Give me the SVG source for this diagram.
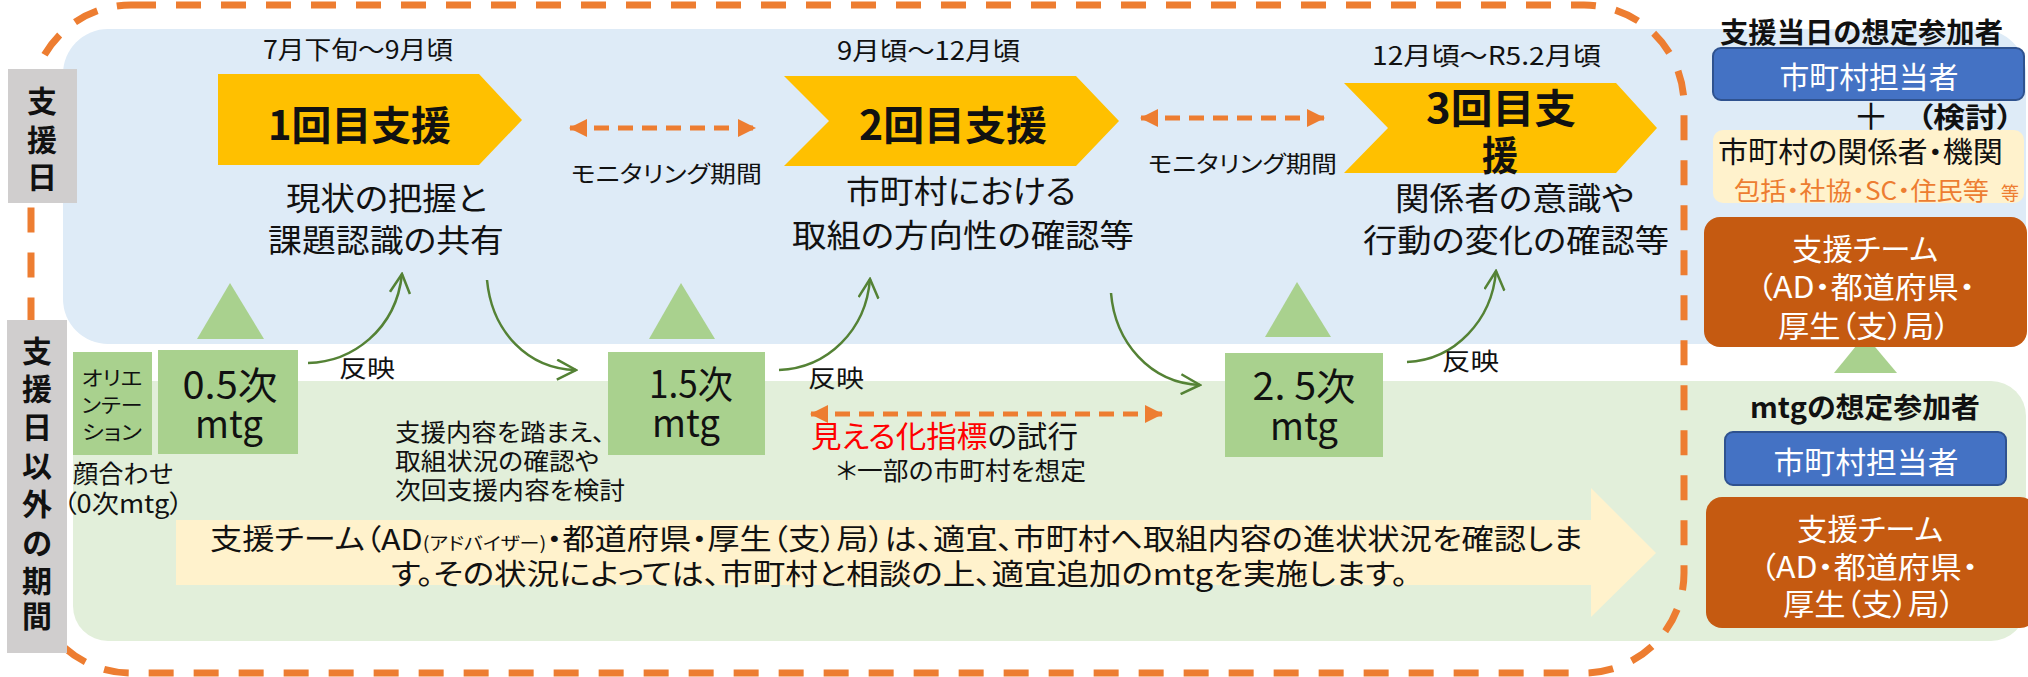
<svg xmlns="http://www.w3.org/2000/svg" width="2028" height="677" viewBox="0 0 2028 677">
<style>
text{font-family:"Noto Sans CJK JP","Noto Sans",sans-serif;fill:#111;font-feature-settings:"palt";}
.b{font-weight:bold;}
.w{fill:#fff;}
.or{fill:#ED7D31;}
.gbox{fill:#A9D18E;}
.tri{fill:#A9D18E;}
.gray{fill:#D0CECE;}
.chev{fill:#FFC000;}
.arc{fill:none;stroke:#548235;stroke-width:2.5;}
.oarr{fill:none;stroke:#ED7D31;stroke-width:5;stroke-dasharray:15 9;}
.blue{fill:#4472C4;stroke:#2F528F;stroke-width:2;}
.brown{fill:#C55A11;}
</style>
<defs>
<marker id="gv" markerUnits="userSpaceOnUse" viewBox="0 0 22 22" refX="20" refY="11" markerWidth="22" markerHeight="22" orient="auto"><path d="M1,1 L20,11 L1,21" fill="none" stroke="#548235" stroke-width="2.5"/></marker>
<marker id="oh" markerUnits="userSpaceOnUse" viewBox="0 0 18 18" refX="17" refY="9" markerWidth="18" markerHeight="18" orient="auto-start-reverse"><path d="M0,0 L18,9 L0,18 Z" fill="#ED7D31"/></marker>
</defs>

<g id="backgrounds">
<rect x="63" y="29" width="1963" height="315" rx="45" fill="#DEEBF7"/>
<rect x="73" y="381" width="1953" height="260" rx="35" fill="#E2EFDA"/>
</g>

<rect id="period-border" x="31" y="5" width="1653" height="668" rx="100" fill="none" stroke="#ED7D31" stroke-width="7" stroke-dasharray="25 20"/>

<g id="label-support-day">
<rect class="gray" x="8" y="69" width="69" height="134"/>
<text class="b" font-size="30" text-anchor="middle"><tspan x="42" y="112">支</tspan><tspan x="42" y="151">援</tspan><tspan x="42" y="188">日</tspan></text>
</g>
<g id="label-other-period">
<rect class="gray" x="7" y="320" width="60" height="333"/>
<text class="b" font-size="30" text-anchor="middle"><tspan x="37" y="362">支</tspan><tspan x="37" y="400">援</tspan><tspan x="37" y="438">日</tspan><tspan x="37" y="477">以</tspan><tspan x="37" y="515">外</tspan><tspan x="37" y="554">の</tspan><tspan x="37" y="592">期</tspan><tspan x="37" y="627">間</tspan></text>
</g>

<g id="support1">
<text x="263" y="59" font-size="25" textLength="190" lengthAdjust="spacingAndGlyphs">7月下旬～9月頃</text>
<path class="chev" d="M218,74 H479 L522,120 L479,165 H218 Z"/>
<text class="b" x="268" y="140" font-size="40" textLength="183" lengthAdjust="spacingAndGlyphs">1回目支援</text>
<text font-size="32"><tspan x="286" y="210" textLength="201" lengthAdjust="spacingAndGlyphs">現状の把握と</tspan><tspan x="268" y="252" textLength="236" lengthAdjust="spacingAndGlyphs">課題認識の共有</tspan></text>
</g>
<g id="support2">
<text x="837" y="60" font-size="25" textLength="183" lengthAdjust="spacingAndGlyphs">9月頃～12月頃</text>
<path class="chev" d="M784,76 H1076 L1119,121 L1076,166 H784 L829,121 Z"/>
<text class="b" x="859" y="140" font-size="40" textLength="188" lengthAdjust="spacingAndGlyphs">2回目支援</text>
<text font-size="32"><tspan x="846" y="203" textLength="230" lengthAdjust="spacingAndGlyphs">市町村における</tspan><tspan x="792" y="247" textLength="342" lengthAdjust="spacingAndGlyphs">取組の方向性の確認等</tspan></text>
</g>
<g id="support3">
<text x="1372" y="65" font-size="25" textLength="229" lengthAdjust="spacingAndGlyphs">12月頃～R5.2月頃</text>
<path class="chev" d="M1344,83 H1616 L1657,128 L1616,173 H1344 L1388,128 Z"/>
<text class="b" font-size="40"><tspan x="1426" y="123" textLength="150" lengthAdjust="spacingAndGlyphs">3回目支</tspan><tspan x="1482" y="170" textLength="36" lengthAdjust="spacingAndGlyphs">援</tspan></text>
<text font-size="32"><tspan x="1395" y="210" textLength="239" lengthAdjust="spacingAndGlyphs">関係者の意識や</tspan><tspan x="1363" y="252" textLength="306" lengthAdjust="spacingAndGlyphs">行動の変化の確認等</tspan></text>
</g>

<g id="monitoring1">
<text x="571" y="182" font-size="23" textLength="191" lengthAdjust="spacingAndGlyphs">モニタリング期間</text>
</g>
<g id="monitoring2">
<text x="1148" y="172" font-size="23" textLength="189" lengthAdjust="spacingAndGlyphs">モニタリング期間</text>
</g>

<g id="triangles">
<polygon class="tri" points="230,283 197,339 264,339"/>
<polygon class="tri" points="681,283 649,339 715,339"/>
<polygon class="tri" points="1297,282 1265,337 1331,337"/>
<polygon class="tri" points="1865,335 1834,373 1897,373"/>
</g>

<g id="orientation">
<rect class="gbox" x="73" y="352" width="79" height="103"/>
<text font-size="20" text-anchor="middle"><tspan x="112" y="386" textLength="61" lengthAdjust="spacingAndGlyphs">オリエ</tspan><tspan x="112" y="413" textLength="61" lengthAdjust="spacingAndGlyphs">ンテー</tspan><tspan x="112" y="440" textLength="60" lengthAdjust="spacingAndGlyphs">ション</tspan></text>
<text font-size="25"><tspan x="73" y="483" textLength="100" lengthAdjust="spacingAndGlyphs">顔合わせ</tspan><tspan x="63" y="513" textLength="120" lengthAdjust="spacingAndGlyphs">（0次mtg）</tspan></text>
</g>
<g id="mtg05">
<rect class="gbox" x="158" y="350" width="140" height="104"/>
<text font-size="38" text-anchor="middle"><tspan x="230" y="399" textLength="95" lengthAdjust="spacingAndGlyphs">0.5次</tspan><tspan x="229" y="438" textLength="68" lengthAdjust="spacingAndGlyphs">mtg</tspan></text>
</g>
<g id="mtg15">
<rect class="gbox" x="608" y="352" width="157" height="103"/>
<text font-size="38" text-anchor="middle"><tspan x="691" y="398" textLength="84" lengthAdjust="spacingAndGlyphs">1.5次</tspan><tspan x="686" y="437" textLength="68" lengthAdjust="spacingAndGlyphs">mtg</tspan></text>
<text font-size="24"><tspan x="395" y="441" textLength="210" lengthAdjust="spacingAndGlyphs">支援内容を踏まえ、</tspan><tspan x="395" y="470" textLength="204" lengthAdjust="spacingAndGlyphs">取組状況の確認や</tspan><tspan x="395" y="499" textLength="230" lengthAdjust="spacingAndGlyphs">次回支援内容を検討</tspan></text>
</g>
<g id="mtg25">
<rect class="gbox" x="1225" y="353" width="158" height="104"/>
<text font-size="38" text-anchor="middle"><tspan x="1304" y="400" textLength="103" lengthAdjust="spacingAndGlyphs">2. 5次</tspan><tspan x="1304" y="440" textLength="68" lengthAdjust="spacingAndGlyphs">mtg</tspan></text>
</g>

<g id="visualization">
<text font-size="30"><tspan x="811" y="447" textLength="267" lengthAdjust="spacingAndGlyphs"><tspan fill="#FF0000">見える化指標</tspan>の試行</tspan><tspan x="836" y="480" font-size="25" textLength="250" lengthAdjust="spacingAndGlyphs">＊一部の市町村を想定</tspan></text>
</g>

<g id="banner">
<path d="M176,520 H1591 V488 L1656,553 L1591,617 V585 H176 Z" fill="#FFF2CC"/>
<text font-size="29"><tspan x="210" y="550" textLength="1373" lengthAdjust="spacingAndGlyphs">支援チーム（AD<tspan font-size="18">(アドバイザー)</tspan>・都道府県・厚生（支）局）は、適宜、市町村へ取組内容の進状状況を確認しま</tspan><tspan x="391" y="585" textLength="1017" lengthAdjust="spacingAndGlyphs">す。その状況によっては、市町村と相談の上、適宜追加のmtgを実施します。</tspan></text>
</g>

<g id="connectors">
<path class="arc" d="M308,363 C352,362 396,330 402,274" marker-end="url(#gv)"/>
<path class="arc" d="M487,280 C492,332 528,369 576,370" marker-end="url(#gv)"/>
<path class="arc" d="M779,370 C828,368 866,330 870,279" marker-end="url(#gv)"/>
<path class="arc" d="M1111,293 C1115,342 1150,383 1200,385" marker-end="url(#gv)"/>
<path class="arc" d="M1407,362 C1455,360 1492,320 1496,271" marker-end="url(#gv)"/>
<line class="oarr" x1="570" y1="128" x2="755" y2="128" marker-start="url(#oh)" marker-end="url(#oh)"/>
<line class="oarr" x1="1141" y1="118" x2="1324" y2="118" marker-start="url(#oh)" marker-end="url(#oh)"/>
<line class="oarr" x1="811" y1="414" x2="1162" y2="414" marker-start="url(#oh)" marker-end="url(#oh)"/>
<text x="339" y="377" font-size="24" textLength="56" lengthAdjust="spacingAndGlyphs">反映</text>
<text x="808" y="387" font-size="24" textLength="56" lengthAdjust="spacingAndGlyphs">反映</text>
<text x="1442" y="370" font-size="24" textLength="57" lengthAdjust="spacingAndGlyphs">反映</text>
</g>

<g id="participants-day">
<text class="b" x="1720" y="43" font-size="28" textLength="283" lengthAdjust="spacingAndGlyphs">支援当日の想定参加者</text>
<rect class="blue" x="1713" y="48" width="311" height="52" rx="8"/>
<text class="w" x="1869" y="88" font-size="30" text-anchor="middle" textLength="179" lengthAdjust="spacingAndGlyphs">市町村担当者</text>
<rect x="1713" y="130" width="311" height="73" rx="10" fill="#FFF2CC"/>
<text font-size="36"><tspan x="1853" y="130">＋</tspan><tspan class="b" x="1917" y="128" font-size="28" textLength="96" lengthAdjust="spacingAndGlyphs">（検討）</tspan></text>
<text font-size="29"><tspan x="1718" y="163" textLength="285" lengthAdjust="spacingAndGlyphs">市町村の関係者・機関</tspan><tspan class="or" x="1734" y="200" font-size="25" textLength="255" lengthAdjust="spacingAndGlyphs">包括・社協・SC・住民等</tspan><tspan class="or" x="2001" y="200" font-size="18">等</tspan></text>
<rect class="brown" x="1704" y="217" width="323" height="130" rx="16"/>
<text class="w" font-size="30" text-anchor="middle"><tspan x="1865" y="260" textLength="146" lengthAdjust="spacingAndGlyphs">支援チーム</tspan><tspan x="1866" y="298" textLength="218" lengthAdjust="spacingAndGlyphs">（AD・都道府県・</tspan><tspan x="1864" y="337" textLength="172" lengthAdjust="spacingAndGlyphs">厚生（支）局）</tspan></text>
</g>

<g id="participants-mtg">
<text class="b" x="1750" y="418" font-size="28" textLength="230" lengthAdjust="spacingAndGlyphs">mtgの想定参加者</text>
<rect class="blue" x="1725" y="432" width="281" height="53" rx="8"/>
<text class="w" x="1866" y="473" font-size="30" text-anchor="middle" textLength="185" lengthAdjust="spacingAndGlyphs">市町村担当者</text>
<rect class="brown" x="1706" y="497" width="330" height="131" rx="16"/>
<text class="w" font-size="30" text-anchor="middle"><tspan x="1870" y="540" textLength="146" lengthAdjust="spacingAndGlyphs">支援チーム</tspan><tspan x="1869" y="578" textLength="218" lengthAdjust="spacingAndGlyphs">（AD・都道府県・</tspan><tspan x="1869" y="615" textLength="172" lengthAdjust="spacingAndGlyphs">厚生（支）局）</tspan></text>
</g>
</svg>
